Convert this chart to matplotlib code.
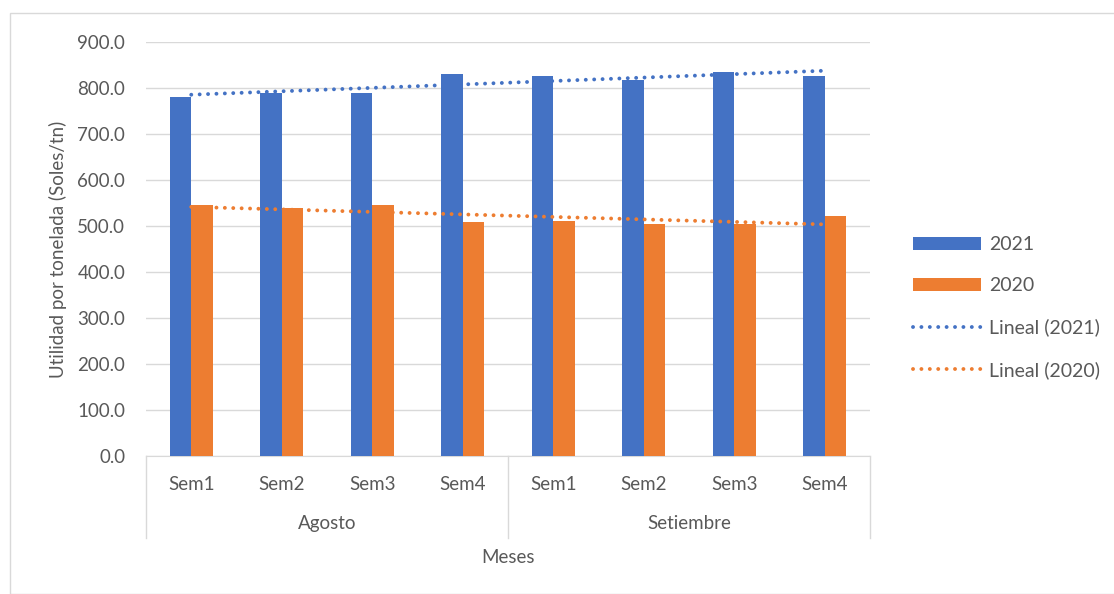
import numpy as np
import matplotlib.pyplot as plt
from matplotlib.patches import Rectangle
from matplotlib.lines import Line2D

plt.rcParams['font.family'] = ['Lato', 'DejaVu Sans']

semanas = ['Sem1', 'Sem2', 'Sem3', 'Sem4', 'Sem1', 'Sem2', 'Sem3', 'Sem4']
meses = ['Agosto', 'Setiembre']
v2021 = [780, 789, 789, 831, 826, 817, 834, 826]
v2020 = [545, 539, 545, 509, 511, 505, 505, 521]

azul = '#4472c4'
naranja = '#ed7d31'
gris = '#595959'
fs = 13.5

fig = plt.figure(figsize=(11.14, 5.94), dpi=100)
fig.patches.append(Rectangle((10/1114, 0), 1.1, 1 - 13/594, transform=fig.transFigure,
                             fill=False, edgecolor='#d9d9d9', lw=1))
ax = fig.add_axes([146/1114, 1 - 456/594, (870 - 146)/1114, 414/594])

x = np.arange(len(semanas))
w = 0.235
b1 = ax.bar(x - w/2, v2021, w, color=azul, label='2021', zorder=3)
b2 = ax.bar(x + w/2, v2020, w, color=naranja, label='2020', zorder=3)

# lineas de tendencia
p21 = np.polyfit(x, v2021, 1)
p20 = np.polyfit(x, v2020, 1)
lineas = []
for p, c, lab in [(p21, azul, 'Lineal (2021)'), (p20, naranja, 'Lineal (2020)')]:
    l, = ax.plot(x, np.polyval(p, x), color=c, lw=2.8, dashes=(0.01, 2.15),
                 dash_capstyle='round', label=lab, zorder=4)
    lineas.append(l)

ax.set_xlim(-0.5, 7.5)
ax.set_ylim(0, 900)
ax.set_yticks(np.arange(0, 901, 100))
ax.set_yticklabels([f'{v:.1f}' for v in np.arange(0, 901, 100)])
ax.grid(axis='y', color='#d9d9d9', lw=1, zorder=0)
for s in ['left', 'right', 'top']:
    ax.spines[s].set_visible(False)
ax.spines['bottom'].set_color('#d9d9d9')
ax.tick_params(axis='y', length=0, labelsize=fs, labelcolor=gris, pad=15)
ax.set_xticks([])

for i, s in enumerate(semanas):
    ax.text(i, -0.068, s, transform=ax.get_xaxis_transform(), ha='center', va='center',
            fontsize=fs, color=gris)
for j, m in enumerate(meses):
    ax.text(1.5 + 4*j, -0.164, m, transform=ax.get_xaxis_transform(), ha='center',
            va='center', fontsize=fs, color=gris)
for xs in [-0.5, 3.5, 7.5]:
    ax.add_line(Line2D([xs, xs], [0, -0.198], transform=ax.get_xaxis_transform(),
                       color='#d9d9d9', lw=1, clip_on=False))
ax.text(3.5, -0.244, 'Meses', transform=ax.get_xaxis_transform(), ha='center',
        va='center', fontsize=fs, color=gris)
ax.set_ylabel('Utilidad por tonelada (Soles/tn)', fontsize=fs, color=gris, labelpad=7)

fig.legend([b1, b2] + lineas, ['2021', '2020', 'Lineal (2021)', 'Lineal (2020)'],
           loc='center left', bbox_to_anchor=(913/1114, 1 - 307.5/594), frameon=False,
           fontsize=14, labelcolor=gris, handlelength=3.5, handleheight=0.63,
           labelspacing=1.25, handletextpad=0.4, borderpad=0, borderaxespad=0)

fig.savefig('out.png', dpi=100)
